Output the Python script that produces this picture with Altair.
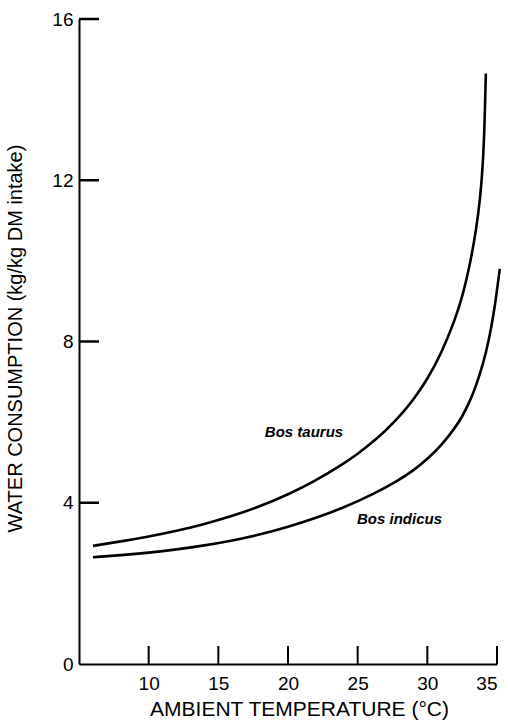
import altair as alt
import pandas as pd

# Bos taurus curve (temperature °C, water kg/kg DM)
taurus_t = [6, 8, 10, 12, 14, 16, 18, 20, 22, 24, 25, 26, 27, 28, 29, 30, 31, 32, 32.5, 33, 33.5, 33.8, 34.0, 34.1, 34.2]
taurus_w = [2.93, 3.04, 3.16, 3.30, 3.47, 3.67, 3.91, 4.20, 4.55, 4.97, 5.21, 5.48, 5.785, 6.135, 6.55, 7.06, 7.70, 8.55, 9.10, 9.80, 10.75, 11.55, 12.45, 13.3, 14.65]

# Bos indicus curve
indicus_t = [6, 8, 10, 12, 14, 16, 18, 20, 22, 24, 26, 28, 29, 30, 31, 32, 32.5, 33, 33.5, 34, 34.4, 34.8, 35.2]
indicus_w = [2.65, 2.70, 2.76, 2.84, 2.94, 3.06, 3.21, 3.40, 3.62, 3.88, 4.19, 4.57, 4.80, 5.08, 5.42, 5.86, 6.135, 6.475, 6.90, 7.44, 8.00, 8.74, 9.80]

# curve labels
label_text = ["Bos taurus", "Bos indicus"]
label_t = [21.15, 28.0]
label_w = [5.76, 3.6]

x_ticks = [10, 15, 20, 25, 30, 35]
y_ticks = [0, 4, 8, 12, 16]

curves = pd.DataFrame({
    "t": taurus_t + indicus_t,
    "w": taurus_w + indicus_w,
    "series": ["Bos taurus"] * len(taurus_t) + ["Bos indicus"] * len(indicus_t),
})
labels = pd.DataFrame({"label": label_text, "t": label_t, "w": label_w})
xt = pd.DataFrame({"tick_t": x_ticks})
yt = pd.DataFrame({"tick_w": y_ticks[1:]})

FONT = "Liberation Sans"

xscale = alt.Scale(domain=[5, 35], nice=False, zero=False)
yscale = alt.Scale(domain=[0, 16], nice=False)

xaxis = alt.Axis(
    values=x_ticks, ticks=False, grid=False, domainColor="black", domainWidth=2,
    labelFont=FONT, labelFontSize=19, labelColor="black", labelPadding=10,
    title="AMBIENT TEMPERATURE (°C)", titleFont=FONT, titleFontSize=21,
    titleFontWeight="normal", titleColor="black", titleX=220, titleY=45,
    titleBaseline="middle", titleAlign="center",
)
yaxis = alt.Axis(
    values=y_ticks, ticks=False, grid=False, domainColor="black", domainWidth=2,
    labelFont=FONT, labelFontSize=19, labelColor="black", labelPadding=6,
    title="WATER CONSUMPTION (kg/kg DM intake)", titleFont=FONT, titleFontSize=20,
    titleFontWeight="normal", titleColor="black", titleAngle=-90, titleX=-64,
    titleY=319, titleBaseline="middle", titleAlign="center",
)

lines = alt.Chart(curves).mark_line(
    color="black", strokeWidth=2.6, interpolate="basis"
).encode(
    x=alt.X("t:Q", scale=xscale, axis=xaxis),
    y=alt.Y("w:Q", scale=yscale, axis=yaxis),
    detail="series:N",
)

xticks = alt.Chart(xt).mark_tick(
    orient="vertical", color="black", opacity=1, size=18, thickness=2, yOffset=-9
).encode(x=alt.X("tick_t:Q", scale=xscale), y=alt.datum(0))

yticks = alt.Chart(yt).mark_tick(
    orient="horizontal", color="black", opacity=1, size=20, thickness=2.5, xOffset=10
).encode(y=alt.Y("tick_w:Q", scale=yscale), x=alt.datum(5))

text = alt.Chart(labels).mark_text(
    font=FONT, fontSize=15, fontStyle="italic", fontWeight="bold", color="black"
).encode(x=alt.X("t:Q", scale=xscale), y=alt.Y("w:Q", scale=yscale), text="label:N")

chart = alt.layer(lines, xticks, yticks, text).properties(
    width=418, height=645,
    autosize=alt.AutoSizeParams(type="none"),
    padding={"left": 79, "top": 19, "right": 11, "bottom": 56},
    background="white",
).configure_view(strokeWidth=0)

chart.save("out.html", embed_options={"renderer": "svg", "actions": False})
